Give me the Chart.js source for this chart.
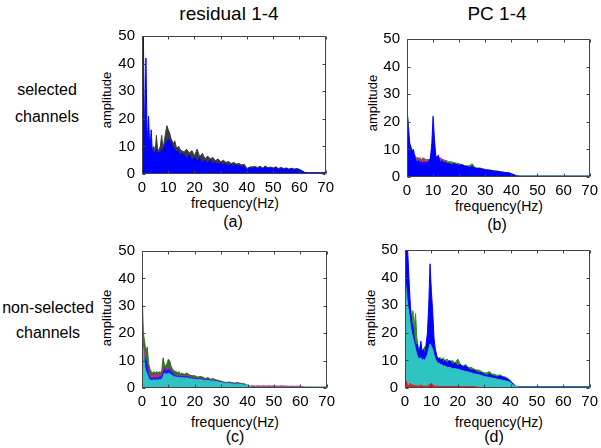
<!DOCTYPE html>
<html>
<head>
<meta charset="utf-8">
<script src="https://cdn.jsdelivr.net/npm/chart.js@4.4.1/dist/chart.umd.min.js"></script>
<style>
body { margin:0; background:#fff; width:601px; height:448px; position:relative; overflow:hidden; font-family:"Liberation Sans", Arial, sans-serif; color:#000; }
canvas { position:absolute; }
.t { position:absolute; transform:translate(-50%,-50%); white-space:nowrap; line-height:1; }
.rot { transform:translate(-50%,-50%) rotate(-90deg); }
</style>
</head>
<body>
<div class="t" style="left:229px;top:13px;font-size:19px">residual 1-4</div>
<div class="t" style="left:497px;top:13px;font-size:19px">PC 1-4</div>

<div class="t" style="left:47px;top:90px;font-size:16px">selected</div>
<div class="t" style="left:47px;top:117px;font-size:16px">channels</div>
<div class="t" style="left:48px;top:308px;font-size:16px">non-selected</div>
<div class="t" style="left:48px;top:333px;font-size:16px">channels</div>

<div class="t rot" style="left:106px;top:100px;font-size:13px">amplitude</div>
<div class="t rot" style="left:372px;top:103px;font-size:13px">amplitude</div>
<div class="t rot" style="left:106px;top:318px;font-size:13px">amplitude</div>
<div class="t rot" style="left:370px;top:318px;font-size:13px">amplitude</div>

<div class="t" style="left:235px;top:203px;font-size:14px">frequency(Hz)</div>
<div class="t" style="left:499px;top:206px;font-size:14px">frequency(Hz)</div>
<div class="t" style="left:235px;top:422px;font-size:14px">frequency(Hz)</div>
<div class="t" style="left:499px;top:422px;font-size:14px">frequency(Hz)</div>

<div class="t" style="left:233px;top:222px;font-size:16px">(a)</div>
<div class="t" style="left:497px;top:225px;font-size:16px">(b)</div>
<div class="t" style="left:235px;top:437px;font-size:16px">(c)</div>
<div class="t" style="left:494px;top:437px;font-size:16px">(d)</div>

<canvas id="chartA"></canvas>
<canvas id="chartB"></canvas>
<canvas id="chartC"></canvas>
<canvas id="chartD"></canvas>

<script>
// frequency grid (Hz): 0.5 Hz steps up to 15, then 1 Hz
const freqHz = [0,0.5,1,1.5,2,2.5,3,3.5,4,4.5,5,5.5,6,6.5,7,7.5,8,8.5,9,9.5,10,10.5,11,11.5,12,12.5,13,13.5,14,14.5,15,
    16,17,18,19,20,21,22,23,24,25,26,27,28,29,30,31,32,33,34,35,36,37,38,39,40,41,42,43,44,45,
    46,47,48,49,50,51,52,53,54,55,56,57,58,59,60,61,62,63,64,65,66,67,68,69,70];
const xTicks = [0, 10, 20, 30, 40, 50, 60, 70];
const yTicks = [0, 10, 20, 30, 40, 50];

// (a) residual 1-4, selected channels
const aDark = [16,14,12,13,11,12,10,9,9,10,8,14,8,9,10,14,9,12,15,17.5,16,15,13,12,11,12,10,9.5,10,9,8.5,
    8,9,7.5,8.5,6.5,9,6.2,7.5,5.5,6.5,5.5,6,4.8,5.5,4.4,5,4.2,4.5,3.8,4.2,3.6,3.8,3.3,3.5,2,
    2.5,2.6,2.7,2.4,2.8,2.2,2.9,2.3,2.5,2.2,2.6,2,2.4,2,2.2,1.8,2.1,1.8,2,1.7,1.2,0.6,
    0.5,0.5,0.5,0.5,0.5,0.5,0.5,0.5];
const aBlue = [18,52,11,42,10,21,8,16,7,8,7,9,6.5,8,7,9,8,10,11,12,12.5,12,11.5,10,9.5,9,8,8.5,7.5,7,7.5,
    7,5.5,7,5,6,4.8,5.8,4.2,5,3.8,5,3.6,4.4,3.5,4,3.2,3.8,3,3.5,2.8,3.3,2.6,3,2.4,1.5,
    2.2,1.8,2.4,1.8,2.3,1.9,2.5,1.8,2.2,1.7,2.3,1.6,2.1,1.6,2,1.5,1.9,1.4,1.8,1.5,1,0.5,
    0.4,0.4,0.4,0.4,0.4,0.4,0.4,0.4];

// (b) PC 1-4, selected channels
const bGreen = [24,20,13,10,10,8,8,7,7,6.5,7,6,7,6,6.5,6,6.5,6,6.5,9,14,10,7,7,7.5,6.5,6,6.5,6,6,6,
    5.5,5.5,5.2,5,4.8,4.5,4.2,4,4.2,4.8,3.5,3.3,3.2,3,2.8,2.6,2.5,2.3,2.2,2.1,1.9,1.8,1.6,1.5,1.2,0.8,0.5,0.35,0.35,0.35,
    0.35,0.35,0.35,0.35,0.35,0.35,0.35,0.35,0.35,0.35,0.35,0.35,0.35,0.35,0.35,0.35,0.35,0.35,0.35,0.35,0.35,0.35,0.35,0.35,0.35];
const bMagenta = [20,14,10,9,8,7,7.5,6.5,6,7,6,6.5,5.5,7,5.5,6.5,5.5,6,6,8,12,9,7.5,7,7,6.5,7,6,6.5,5.5,6];
const bBlue = [25,17,12,11,9,10,7,6,5.5,6,5,5.5,5,5.5,5,5.5,5,6,7,12,22,14,8,6.5,8,6,5.5,6,5,5.5,5,
    5,4.5,4.8,4.5,4.2,4.5,4,3.8,3.5,3.8,3.2,3,3.2,2.8,2.6,2.5,2.4,2.2,2.1,2,1.8,1.7,1.5,1.5,1.2,0.8,0.4,0.3,0.3,0.3,
    0.3,0.3,0.3,0.3,0.3,0.3,0.3,0.3,0.3,0.3,0.3,0.3,0.3,0.3,0.3,0.3,0.3,0.3,0.3,0.3,0.3,0.3,0.3,0.3,0.3];

// (c) residual 1-4, non-selected channels
const cGreen = [37,20,17,13,15,9,7,6,5.5,6,5.5,6,5.5,6,5.5,6.5,11,8.5,8,9,10.5,10,8,7,6.5,6,6,5.5,6,5,5.5,
    5,5.5,4.8,4.5,4.5,4,4.2,4,3.5,3.8,3.2,3.5,3,2.8,2.5,2.2,2,2.2,2,1.8,2,1.8,1.6,1.5,1,0.5,0.3,0.3,0.3,0.3,
    0.3,0.3,0.3,0.3,0.3,0.3,0.3,0.3,0.3,0.3,0.3,0.3,0.3,0.3,0.3,0.3,0.3,0.3,0.3,0.3,0.3,0.3,0.3,0.3,0.3];
const cMagenta = [30,16,12,10,9,6,5,4.5,4.5,5,4.5,5,4.5,5,4.5,5.5,7,6.5,6.5,7,7.5,7,6,5.5,5,5,4.8,4.5,4.8,4.2,4.5,
    4.2,4.5,4,3.8,3.8,3.5,3.6,3.4,3,3.2,2.8,3,2.6,2.4,2.2,2,1.8,1.9,1.7,1.6,1.7,1.5,1.4,1.3,0.9,0.7,0.8,0.7,0.8,0.7,
    0.8,0.7,0.8,0.7,0.8,0.7,0.7,0.8,0.7,0.7,0.6,0.7,0.6,0.7,0.6,0.4,0.2,0.2,0.2,0.2,0.2,0.2,0.2,0.2,0.2];
const cBlue = [20,12,11,10,8,5,4,3.5,3.5,4,3.5,4,3.5,4,4,4.5,5.5,7,6.5,6,7,6.5,6,5.5,5,4.5,4.5,4.2,4.5,4,4.2,
    4,4.2,3.8,3.6,3.6,3.3,3.4,3.2,2.9,3,2.7,2.8,2.5,2.3,2.1,1.9,1.7,1.8,1.6,1.5,1.6,1.4,1.3,1.2,0.8,0.3,0.2,0.2,0.2,0.2,
    0.2,0.2,0.2,0.2,0.2,0.2,0.2,0.2,0.2,0.2,0.2,0.2,0.2,0.2,0.2,0.2,0.2,0.2,0.2,0.2,0.2,0.2,0.2,0.2,0.2];
const cCyan = [17,14,8,6,5,3.5,3,2.8,2.8,3,2.8,3,2.8,3,3,3.2,4,5.5,5,5,5.5,5,5,4.5,4.2,4,4,3.8,4,3.6,3.8,
    3.6,3.7,3.4,3.3,3.2,3,3.1,2.9,2.7,2.8,2.5,2.6,2.3,2.2,2,1.8,1.6,1.7,1.5,1.4,1.5,1.3,1.2,1.1,1.2,0.5,0.3,0.3,0.3,0.3,
    0.3,0.3,0.3,0.3,0.3,0.3,0.3,0.3,0.3,0.3,0.3,0.3,0.3,0.3,0.3,0.3,0.3,0.3,0.3,0.3,0.3,0.3,0.3,0.3,0.3];

// (d) PC 1-4, non-selected channels
const dGreen = [52,45,40,35,30,25,28,22,27,18,15,14,16,13,14,15,14,16,20,28,25,18,14,12,11,11,10,11,10,11,10,
    10.5,9.5,10,9,10.5,8.5,8,8.5,7.5,7.5,7,6.5,6.5,6,5.5,5.5,6,5,5,4.5,4.8,4.2,4,3.5,2.5,1.2,0.6,0.5,0.5,0.5,
    0.5,0.5,0.5,0.5,0.5,0.5,0.5,0.5,0.5,0.5,0.5,0.5,0.5,0.5,0.5,0.5,0.5,0.5,0.5,0.5,0.5,0.5,0.5,0.5,0.5];
const dBlue = [52,52,50,40,30,24,22,18,15,16,14,13,17,13,14,12,16,20,30,45,35,28,18,14,12,10,11,9.5,10.5,9,10,
    9,10,8.5,9,8,8.5,7.5,8,7,6.5,6.5,6,5.5,5.5,5,4.5,5,4.5,4.2,4,4.2,4,3.5,3.2,2.5,1.5,0.6,0.5,0.5,0.5,
    0.5,0.5,0.5,0.5,0.5,0.5,0.5,0.5,0.5,0.5,0.5,0.5,0.5,0.5,0.5,0.5,0.5,0.5,0.5,0.5,0.5,0.5,0.5,0.5,0.5];
const dCyan = [40,35,30,27,23,20,18,16,14,12,11,10.5,11,10,10.5,10,11,12,14,16,15,14,12,10.5,9.5,9,9,8.5,8.5,8,8,
    7.5,7.5,7,7,6.8,6.5,6.2,6,5.8,5.5,5.2,5,4.8,4.5,4.2,4,3.8,3.6,3.4,3.2,3,2.8,2.6,2.4,2,1,0.5,0.4,0.4,0.4,
    0.4,0.4,0.4,0.4,0.4,0.4,0.4,0.4,0.4,0.4,0.4,0.4,0.4,0.4,0.4,0.4,0.4,0.4,0.4,0.4,0.4,0.4,0.4,0.4,0.4];
const dRed = [1.5,2.5,1,0.8,1.8,0.8,1.2,0.7,1,0.6,0.8,0.7,1.2,0.6,0.8,0.6,0.7,0.6,1,1.2,1.8,1,0.8,0.6,0.7,0.6,0.6,0.5,0.6,0.5,0.6,
    0.5,0.6,0.5,0.5,0.6,0.5,0.5,0.5,0.5,0.5,0.5,0.4,0.3];

const PAD_T = 10, PAD_R = 12, Y_W = 40, X_H = 30;

function toPoints(values) {
    return values.map((v, i) => ({ x: freqHz[i], y: v }));
}

function spectrum(values, color, order) {
    return {
        data: toPoints(values),
        borderColor: color,
        backgroundColor: color,
        borderWidth: 1,
        pointRadius: 0,
        tension: 0,
        fill: 'origin',
        order: order
    };
}

const boxPlugin = {
    id: 'box',
    afterDatasetsDraw(chart) {
        const ctx = chart.ctx;
        const a = chart.chartArea;
        const l = Math.round(a.left) + 0.5, r = Math.round(a.right) - 0.5;
        const t = Math.round(a.top) + 0.5, b = Math.round(a.bottom) - 0.5;
        ctx.save();
        ctx.strokeStyle = '#444';
        ctx.lineWidth = 1;
        ctx.beginPath();
        ctx.rect(l, t, r - l, b - t);
        xTicks.forEach(v => {
            const px = Math.round(chart.scales.x.getPixelForValue(v)) + 0.5;
            ctx.moveTo(px, b); ctx.lineTo(px, b - 3);
            ctx.moveTo(px, t); ctx.lineTo(px, t + 3);
        });
        yTicks.forEach(v => {
            const py = Math.round(chart.scales.y.getPixelForValue(v)) + 0.5;
            ctx.moveTo(l, py); ctx.lineTo(l + 3, py);
            ctx.moveTo(r, py); ctx.lineTo(r - 3, py);
        });
        ctx.stroke();
        ctx.restore();
    }
};

function makePanel(id, box, datasets) {
    const c = document.getElementById(id);
    c.width = box.w + Y_W + PAD_R;
    c.height = box.h + PAD_T + X_H;
    c.style.left = (box.x - Y_W) + 'px';
    c.style.top = (box.y - PAD_T) + 'px';

    const tickFont = { family: '"Liberation Sans", Arial, sans-serif', size: 15 };
    return new Chart(c.getContext('2d'), {
        type: 'line',
        data: { datasets: datasets },
        options: {
            responsive: false,
            animation: false,
            events: [],
            layout: { padding: { top: PAD_T, right: PAD_R, left: 0, bottom: 0 } },
            plugins: { legend: { display: false }, tooltip: { enabled: false } },
            scales: {
                x: {
                    type: 'linear',
                    min: 0,
                    max: 70,
                    afterFit: s => { s.height = X_H; },
                    afterBuildTicks: s => { s.ticks = xTicks.map(v => ({ value: v })); },
                    grid: { display: false, drawTicks: false },
                    border: { display: false },
                    ticks: { font: tickFont, color: '#000', padding: 5, maxRotation: 0, autoSkip: false }
                },
                y: {
                    min: 0,
                    max: 50,
                    afterFit: s => { s.width = Y_W; },
                    afterBuildTicks: s => { s.ticks = yTicks.map(v => ({ value: v })); },
                    grid: { display: false, drawTicks: false },
                    border: { display: false },
                    ticks: { font: tickFont, color: '#000', padding: 7 }
                }
            }
        },
        plugins: [boxPlugin]
    });
}

makePanel('chartA', { x: 142, y: 30, w: 185, h: 144 }, [
    spectrum(aBlue, '#0000ff', 1),
    spectrum(aDark, '#3a3a3a', 2)
]);

makePanel('chartB', { x: 407, y: 33, w: 184, h: 144 }, [
    spectrum(bBlue, '#0000ff', 1),
    spectrum(bMagenta, '#c0307a', 2),
    spectrum(bGreen, '#3c8c2c', 3)
]);

makePanel('chartC', { x: 142, y: 245, w: 186, h: 143 }, [
    spectrum(cCyan, '#2ec4c4', 1),
    spectrum(cBlue, '#1a1aff', 2),
    spectrum(cMagenta, '#c0307a', 3),
    spectrum(cGreen, '#3a6e2a', 4)
]);

makePanel('chartD', { x: 405, y: 244, w: 186, h: 144 }, [
    spectrum(dRed, '#e02020', 0),
    spectrum(dCyan, '#2ec4c4', 1),
    spectrum(dBlue, '#0000ff', 2),
    spectrum(dGreen, '#2e8b2e', 3)
]);
</script>
</body>
</html>
